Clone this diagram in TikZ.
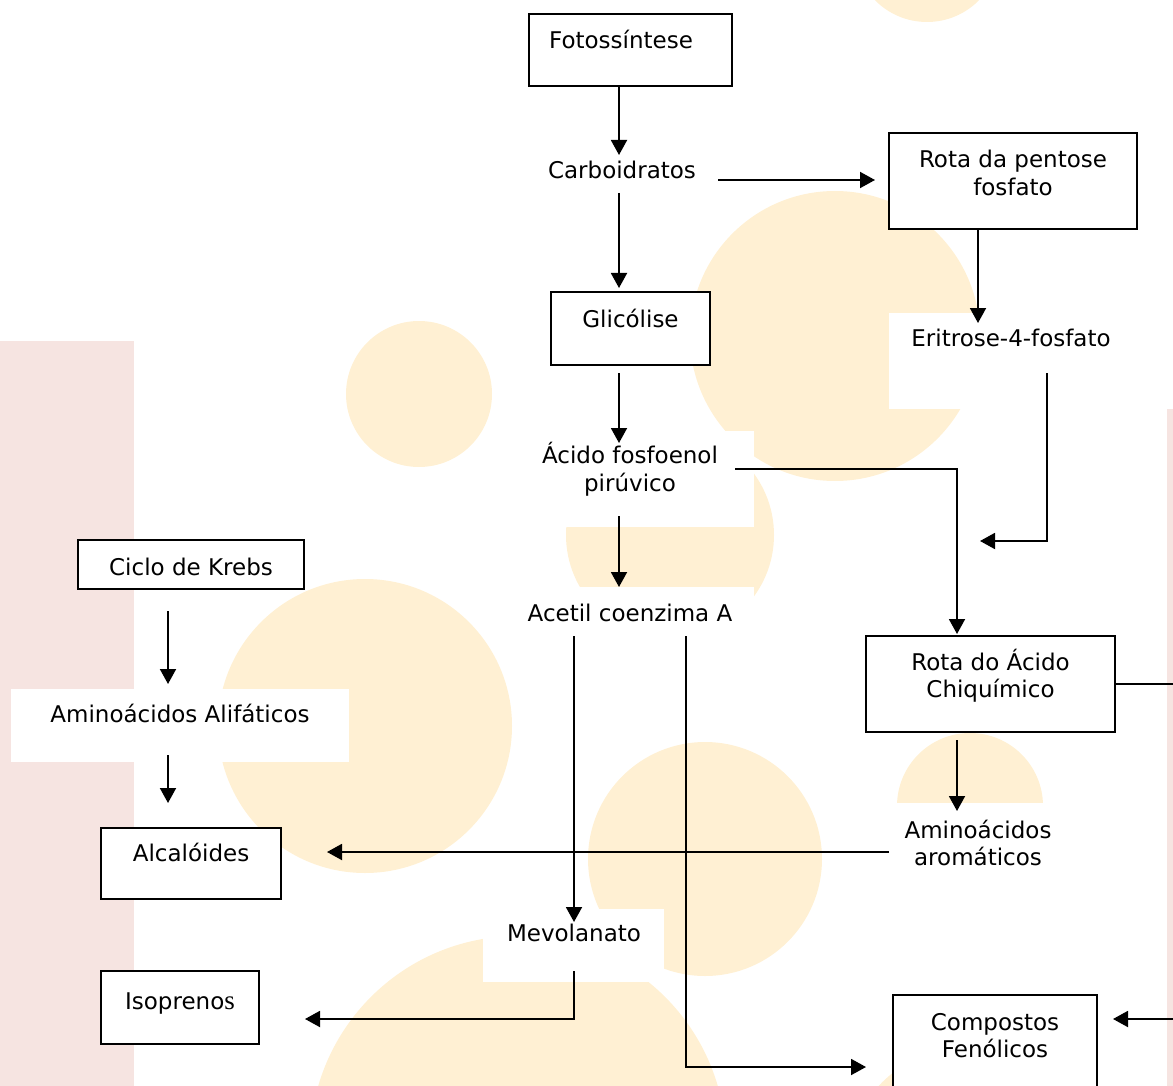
\documentclass[tikz,border=0pt]{standalone}
\usepackage{fontspec}
\setmainfont{DejaVu Sans}
\newfontfamily\serifs{Liberation Serif}
\usetikzlibrary{arrows.meta,calc}
\definecolor{pinkbg}{HTML}{F6E4E1}
\definecolor{yellowbg}{HTML}{FFF0D3}

\begin{document}
\begin{tikzpicture}[x=1pt, y=-1pt,
  every node/.style={font=\fontsize{23}{27.5}\selectfont},
  box/.style={draw, fill=white, line width=1.8pt, inner sep=0pt, outer sep=0pt, align=center, anchor=north west},
  txt/.style={inner sep=0pt, align=center},
  arr/.style={line width=1.9pt, -{Triangle[length=15pt,width=16pt]}}]
  \useasboundingbox (0,0) rectangle (1173,1086);
  \fill[pinkbg] (0,341) rectangle (134,1086);
  \fill[pinkbg] (1167,409) rectangle (1180,1086);
  \foreach \cx/\cy/\r in {927/-51/73, 835/336/145, 419/394/73, 670/535/104, 365/726/147,
                          705/859/117, 970/806/73, 518/1144/208, 960/1160/110}
    \fill[yellowbg] (\cx,\cy) circle (\r);
  \foreach \ax/\ay/\bx/\by in {889/313/1137/409, 505/431/754/527, 505/587/754/640,
                               11/689/349/762, 483/909/664/982, 880/803/1075/880}
    \fill[white] (\ax,\ay) rectangle (\bx,\by);

  \node[box, minimum width=203pt, text height=35pt, text depth=37pt] (foto) at (529,14) {Fotossíntese\hspace*{19pt}};
  \node[box, minimum width=248pt, text height=62.5pt, text depth=33.5pt] (pentose) at (889,133) {Rota da pentose\\fosfato};
  \node[box, minimum width=159pt, text height=35pt, text depth=38pt] (glic) at (551,292) {Glicólise};
  \node[box, minimum width=226pt, text height=35pt, text depth=14pt] (krebs) at (78,540) {Ciclo de Krebs};
  \node[box, minimum width=249pt, text height=61.5pt, text depth=34.5pt] (chiq) at (866,636) {Rota do Ácido\\Chiquímico};
  \node[box, minimum width=180pt, text height=33pt, text depth=38pt] (alcal) at (101,828) {Alcalóides};
  \node[box, minimum width=158pt, text height=38pt, text depth=35pt] (isop) at (101,971) {Isopreno{\serifs\fontsize{27}{27.5}\selectfont s}};
  \node[box, line width=1.2pt, minimum width=204pt, text height=62.5pt, text depth=33.5pt] (comp) at (893,995) {Compostos\\Fenólicos};

  \node[txt] (carb) at (622,170) {Carboidratos};
  \node[txt] (erit) at (1011,338) {Eritrose-4-fosfato};
  \node[txt] (acido) at (630,469) {Ácido fosfoenol\\pirúvico};
  \node[txt] (acetil) at (630,613) {Acetil coenzima A};
  \node[txt] (alif) at (180,713) {Aminoácidos Alifáticos};
  \node[txt] (arom) at (978,843) {Aminoácidos\\aromáticos};
  \node[txt] (mevo) at (574,933) {Mevolanato};
  \coordinate (erifree) at (980,541);

  \draw[arr] ($(foto.south)+(-11.5,0)$) -- ($(carb)+(-3,-15)$);
  \draw[arr] ($(carb)+(-3,23)$) -- ($(glic.north)+(-11.5,-4)$);
  \draw[arr] ($(carb)+(96,10)$) -- ($(pentose.west)+(-14,-1)$);
  \draw[arr] ($(pentose.south)+(-35,0)$) -- ($(erit)+(-33,-15)$);
  \draw[arr] ($(erit)+(36,35)$) |- (erifree);
  \draw[arr] ($(glic.south)+(-11.5,8)$) -- ($(acido)+(-11,-26)$);
  \draw[arr] ($(acido)+(105,0)$) -| ($(chiq.north)+(-33.5,-2)$);
  \draw[arr] ($(acido)+(-11,47)$) -- ($(acetil)+(-11,-26)$);
  \draw[arr] ($(acetil)+(-56,23)$) -- ($(mevo)+(0,-11)$);
  \draw[arr] ($(acetil)+(56,23)$) |- ($(comp.west)+(-27,24)$);
  \draw[arr] ($(mevo)+(0,38)$) |- ($(isop.east)+(46,11.5)$);
  \draw[arr] (chiq.east) -- ++(75,0) |- ($(comp.east)+(16,-24)$);
  \draw[arr] ($(chiq.south)+(-33.5,8)$) -- ($(arom)+(-21,-32)$);
  \draw[arr] ($(arom)+(-89,9)$) -- ($(alcal.east)+(46,-11.5)$);
  \draw[arr] ($(krebs.south)+(-23,22)$) -- ($(alif)+(-12,-29)$);
  \draw[arr] ($(alif)+(-12,42)$) -- ($(alcal.north)+(-23,-25)$);
\end{tikzpicture}
\end{document}
